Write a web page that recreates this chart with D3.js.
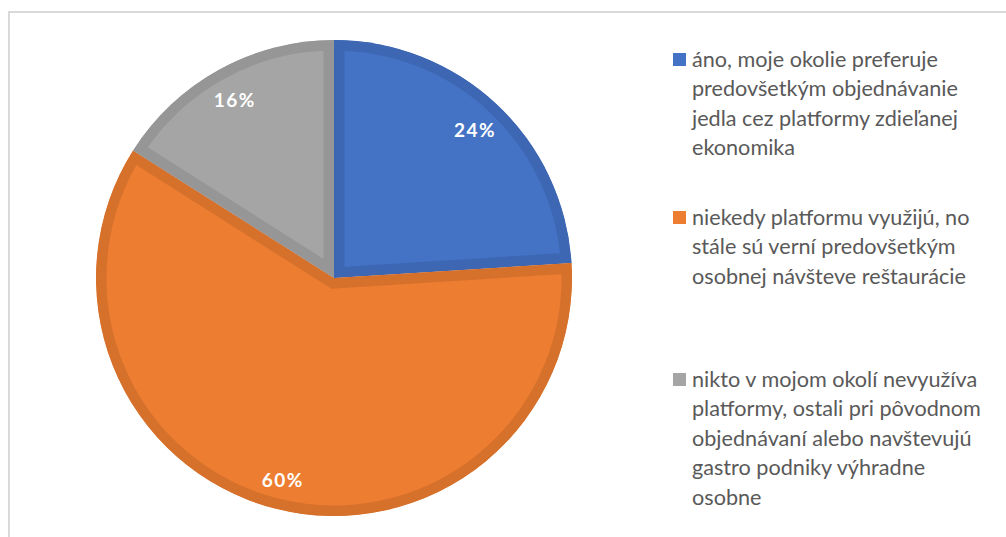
<!DOCTYPE html>
<html>
<head>
<meta charset="utf-8">
<script src="https://cdn.jsdelivr.net/npm/d3@7"></script>
<style>
  html, body { margin: 0; padding: 0; background: #fff; }
  svg { display: block; }
</style>
</head>
<body>
<svg id="chart" width="1006" height="537"></svg>
<script>
// Survey answers and their shares (percent)
const categories = [
  "áno, moje okolie preferuje predovšetkým objednávanie jedla cez platformy zdieľanej ekonomika",
  "niekedy platformu využijú, no stále sú verní predovšetkým osobnej návšteve reštaurácie",
  "nikto v mojom okolí nevyužíva platformy, ostali pri pôvodnom objednávaní alebo navštevujú gastro podniky výhradne osobne"
];
const values = [24, 60, 16];
const valueLabels = ["24%", "60%", "16%"];

// Legend text broken into lines
const legendLines = [
  ["áno, moje okolie preferuje", "predovšetkým objednávanie", "jedla cez platformy zdieľanej", "ekonomika"],
  ["niekedy platformu využijú, no", "stále sú verní predovšetkým", "osobnej návšteve reštaurácie"],
  ["nikto v mojom okolí nevyužíva", "platformy, ostali pri pôvodnom", "objednávaní alebo navštevujú", "gastro podniky výhradne", "osobne"]
];

const fills = ["#4472C4", "#ED7D31", "#A5A5A5"];
const edges = ["#3D66B3", "#D6712C", "#969696"];

const svg = d3.select("#chart");
const W = 1006, H = 537;

// Chart frame
svg.append("rect")
  .attr("x", 9).attr("y", 12)
  .attr("width", W + 10).attr("height", H + 10)
  .attr("fill", "#fff")
  .attr("stroke", "#d9d9d9")
  .attr("stroke-width", 2);

const cx = 334, cy = 278, R = 238;

const pie = d3.pie().value(d => d).sort(null);
const arcs = pie(values);
const arc = d3.arc().innerRadius(0).outerRadius(R);
const labelArc = d3.arc().innerRadius(206).outerRadius(206);

const g = svg.append("g").attr("transform", `translate(${cx},${cy})`);
const defs = svg.append("defs");

arcs.forEach((a, i) => {
  defs.append("clipPath").attr("id", "slice-clip-" + i)
    .append("path").attr("d", arc(a));
});

// Slices with a darker inner rim
g.selectAll("path.slice")
  .data(arcs)
  .join("path")
  .attr("class", "slice")
  .attr("d", arc)
  .attr("fill", (d, i) => fills[i])
  .attr("stroke", (d, i) => edges[i])
  .attr("stroke-width", 21)
  .attr("stroke-linejoin", "miter")
  .attr("clip-path", (d, i) => `url(#slice-clip-${i})`);

const font = "Lato, 'Open Sans', sans-serif";

// Percentage labels
g.selectAll("text.pct")
  .data(arcs)
  .join("text")
  .attr("class", "pct")
  .attr("transform", d => { const c = labelArc.centroid(d); return `translate(${c[0]},${c[1] + 2})`; })
  .attr("text-anchor", "middle")
  .attr("dominant-baseline", "central")
  .attr("font-family", font)
  .attr("font-weight", "bold")
  .attr("font-size", 19)
  .attr("letter-spacing", 1.5)
  .attr("fill", "#fff")
  .text((d, i) => valueLabels[i]);

// Legend: size the text so the widest line fits the legend column
const probe = svg.append("text").attr("font-family", font).attr("font-size", 20)
  .text("predovšetkým objednávanie");
const probeW = probe.node().getComputedTextLength();
probe.remove();
const legendSize = 20 * 266 / probeW;

const legendTops = [67, 225, 387];
const lineGap = 29.4;
const legend = svg.append("g");
legendLines.forEach((lines, i) => {
  const item = legend.append("g");
  item.append("rect")
    .attr("x", 673).attr("y", legendTops[i] - 14)
    .attr("width", 13).attr("height", 13)
    .attr("fill", fills[i]);
  item.selectAll("text")
    .data(lines)
    .join("text")
    .attr("x", 692)
    .attr("y", (d, j) => legendTops[i] + j * lineGap)
    .attr("font-family", font)
    .attr("font-size", legendSize)
    .attr("fill", "#595959")
    .text(d => d);
});
</script>
</body>
</html>
